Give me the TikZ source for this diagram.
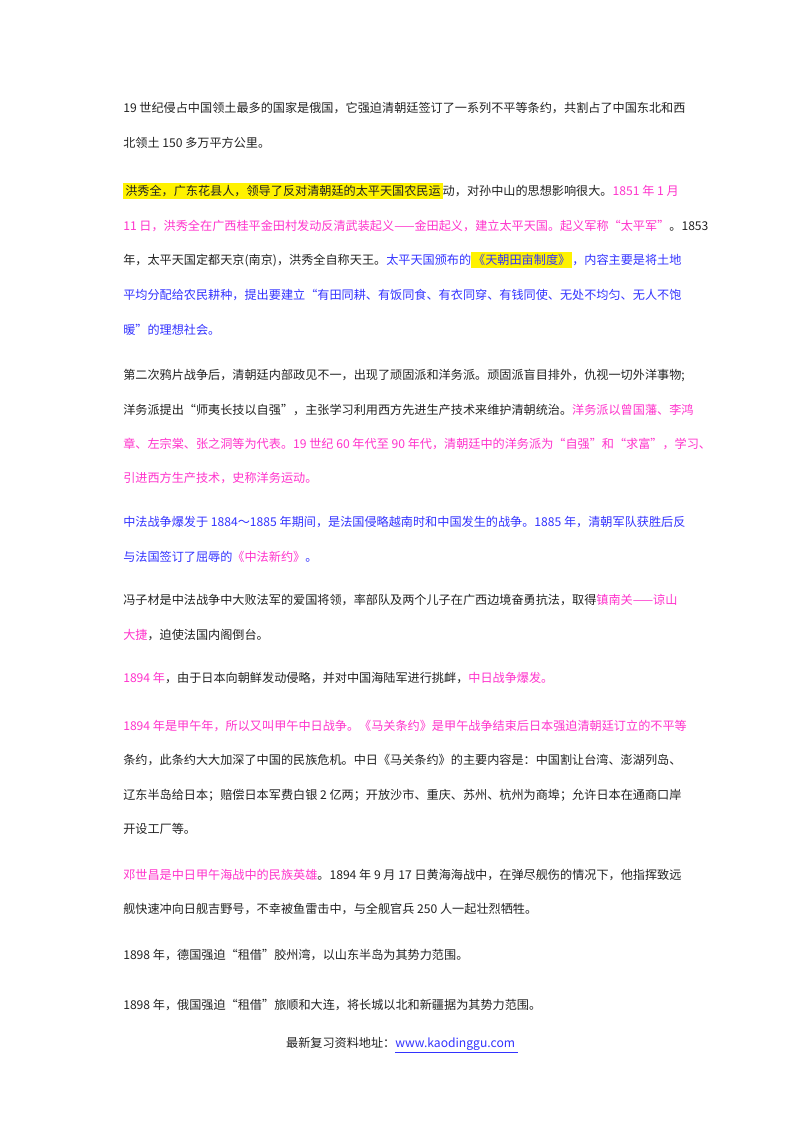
\documentclass[tikz,border=0pt]{standalone}
\usepackage{fontspec}
\setmainfont{Noto Sans CJK SC}
\definecolor{pk}{HTML}{FF33CC}
\definecolor{bl}{HTML}{3333FF}
\definecolor{tx}{HTML}{222222}
\newcommand{\pk}[1]{\textcolor{pk}{#1}}
\newcommand{\bl}[1]{\textcolor{bl}{#1}}
\newcommand{\hl}[1]{{\setlength\fboxsep{1.5pt}\colorbox{yellow}{#1}}}
\tikzset{ln/.style={anchor=west,inner sep=0pt,text=tx,font=\fontsize{9.1}{11}\selectfont}}
\begin{document}
\begin{tikzpicture}[x=0.75pt,y=-0.75pt]
\useasboundingbox[fill=white] (0,0) rectangle (800,1132);
\node[ln] (a1) at (123,108) {19 世纪侵占中国领土最多的国家是俄国，它强迫清朝廷签订了一系列不平等条约，共割占了中国东北和西};
\node[ln] (a2) at (123,143) {北领土 150 多万平方公里。};
\node[ln] (b1) at (123,191) {\hl{洪秀全，广东花县人，领导了反对清朝廷的太平天国农民运}动，对孙中山的思想影响很大。\pk{1851 年 1 月}};
\node[ln] (b2) at (123,226) {\pk{11 日，洪秀全在广西桂平金田村发动反清武装起义——金田起义，建立太平天国。起义军称“太平军”}。1853};
\node[ln] (b3) at (123,260) {年，太平天国定都天京(南京)，洪秀全自称天王。\bl{太平天国颁布的\hl{《天朝田亩制度》}，内容主要是将土地}};
\node[ln] (b4) at (123,295) {\bl{平均分配给农民耕种，提出要建立“有田同耕、有饭同食、有衣同穿、有钱同使、无处不均匀、无人不饱}};
\node[ln] (b5) at (123,330) {\bl{暖”的理想社会。}};
\node[ln] (c1) at (123,375) {第二次鸦片战争后，清朝廷内部政见不一，出现了顽固派和洋务派。顽固派盲目排外，仇视一切外洋事物;};
\node[ln] (c2) at (123,410) {洋务派提出“师夷长技以自强”，主张学习利用西方先进生产技术来维护清朝统治。\pk{洋务派以曾国藩、李鸿}};
\node[ln] (c3) at (123,444) {\pk{章、左宗棠、张之洞等为代表。19 世纪 60 年代至 90 年代，清朝廷中的洋务派为“自强”和“求富”，学习、}};
\node[ln] (c4) at (123,478) {\pk{引进西方生产技术，史称洋务运动。}};
\node[ln] (d1) at (123,522) {\bl{中法战争爆发于 1884～1885 年期间，是法国侵略越南时和中国发生的战争。1885 年，清朝军队获胜后反}};
\node[ln] (d2) at (123,557) {\bl{与法国签订了屈辱的}\pk{《中法新约》}\bl{。}};
\node[ln] (e1) at (123,600) {冯子材是中法战争中大败法军的爱国将领，率部队及两个儿子在广西边境奋勇抗法，取得\pk{镇南关——谅山}};
\node[ln] (e2) at (123,635) {\pk{大捷}，迫使法国内阁倒台。};
\node[ln] (f1) at (123,678) {\pk{1894 年}，由于日本向朝鲜发动侵略，并对中国海陆军进行挑衅，\pk{中日战争爆发。}};
\node[ln] (g1) at (123,726) {\pk{1894 年是甲午年，所以又叫甲午中日战争。《马关条约》是甲午战争结束后日本强迫清朝廷订立的不平等}};
\node[ln] (g2) at (123,760) {条约，此条约大大加深了中国的民族危机。中日《马关条约》的主要内容是：中国割让台湾、澎湖列岛、};
\node[ln] (g3) at (123,795) {辽东半岛给日本；赔偿日本军费白银 2 亿两；开放沙市、重庆、苏州、杭州为商埠；允许日本在通商口岸};
\node[ln] (g4) at (123,829) {开设工厂等。};
\node[ln] (h1) at (123,875) {\pk{邓世昌是中日甲午海战中的民族英雄}。1894 年 9 月 17 日黄海海战中，在弹尽舰伤的情况下，他指挥致远};
\node[ln] (h2) at (123,909) {舰快速冲向日舰吉野号，不幸被鱼雷击中，与全舰官兵 250 人一起壮烈牺牲。};
\node[ln] (i1) at (123,955) {1898 年，德国强迫“租借”胶州湾，以山东半岛为其势力范围。};
\node[ln] (j1) at (123,1005) {1898 年，俄国强迫“租借”旅顺和大连，将长城以北和新疆据为其势力范围。};
\node[ln,anchor=center] (k1) at (402,1045) {最新复习资料地址：\bl{\underline{www.kaodinggu.com\ }}};
\end{tikzpicture}
\end{document}
